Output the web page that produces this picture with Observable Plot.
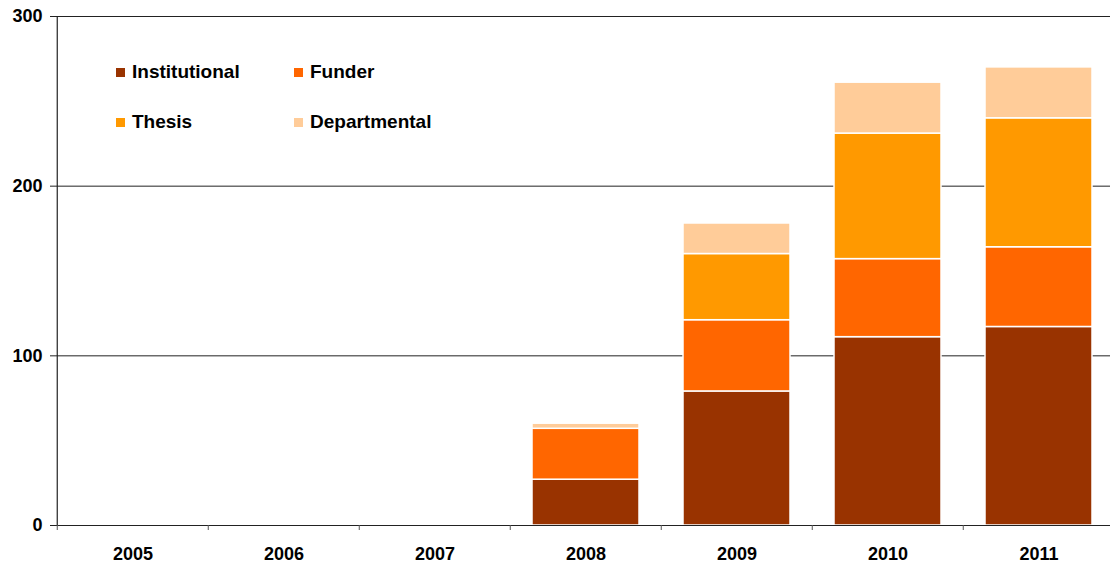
<!DOCTYPE html>
<html>
<head>
<meta charset="utf-8">
<script src="https://cdn.jsdelivr.net/npm/d3@7"></script>
<script src="https://cdn.jsdelivr.net/npm/@observablehq/plot@0.6"></script>
<style>
  body { margin: 0; background: #fff; font-family: "Liberation Sans", Arial, sans-serif; overflow: hidden; }
  #wrap { position: relative; width: 1110px; height: 566px; overflow: hidden; }
  #wrap svg { max-width: none !important; }
  .legend { position: absolute; left: 0; top: 0; font-weight: bold; font-size: 19px; color: #000; }
  .item { position: absolute; display: flex; align-items: center; white-space: nowrap; }
  .sw { width: 9px; height: 9px; margin-right: 7px; }
</style>
</head>
<body>
<div id="wrap"></div>
<script>
const years = ["2005", "2006", "2007", "2008", "2009", "2010", "2011"];
const categories = ["Institutional", "Funder", "Thesis", "Departmental"];
const institutional = [0, 0, 0, 27, 79, 111, 117];
const funder = [0, 0, 0, 30, 42, 46, 47];
const thesis = [0, 0, 0, 0, 39, 74, 76];
const departmental = [0, 0, 0, 3, 18, 30, 30];
const colors = ["#993300", "#FF6600", "#FF9900", "#FFCC99"];
const yTicks = [0, 100, 200, 300];

const seriesValues = [institutional, funder, thesis, departmental];
const data = [];
categories.forEach((c, i) => {
  years.forEach((y, j) => data.push({year: y, type: c, value: seriesValues[i][j]}));
});

const W = 1110, H = 566, mL = 55, mR = 0, mT = 16, mB = 41;
const xRange = [mL, 1115.5];
const step = (xRange[1] - xRange[0]) / years.length;
const font = "'Liberation Sans', Arial, sans-serif";

const chart = Plot.plot({
  width: W,
  height: H,
  marginLeft: mL,
  marginRight: mR,
  marginTop: mT,
  marginBottom: mB,
  style: {fontFamily: font, background: "#fff", color: "#000", overflow: "hidden"},
  x: {domain: years, padding: 0, range: xRange, label: null},
  y: {domain: [0, 300], label: null},
  color: {domain: categories, range: colors},
  marks: [
    Plot.gridY(yTicks.slice(1), {stroke: "#222", strokeOpacity: 1, strokeWidth: 1}),
    Plot.barY(data, {
      x: "year", y: "value", fill: "type", order: categories,
      stroke: "#fff", strokeWidth: 1.5, insetLeft: 22, insetRight: 22
    }),
    Plot.ruleY([0], {stroke: "#222", strokeWidth: 1.2}),
    Plot.ruleX([0], {x: () => years[0], dx: -step / 2, stroke: "#222", strokeWidth: 1.2}),
    Plot.axisY(yTicks, {
      tickSize: 5, tickPadding: 8, fontWeight: "bold", fontSize: 18,
      stroke: "#222", label: null, fill: "#000"
    }),
    Plot.axisX({
      tickSize: 0, tickPadding: 22, fontWeight: "bold", fontSize: 18,
      label: null, fill: "#000"
    }),
    Plot.axisX({
      tickSize: 5, tickFormat: () => "", dx: -step / 2, stroke: "#555", label: null
    })
  ]
});

const wrap = document.getElementById("wrap");
wrap.appendChild(chart);

const legend = document.createElement("div");
legend.className = "legend";
const pos = [[116, 72], [294, 72], [116, 122], [294, 122]];
categories.forEach((c, i) => {
  const it = document.createElement("div");
  it.className = "item";
  it.style.left = pos[i][0] + "px";
  it.style.top = (pos[i][1] - 11) + "px";
  it.style.height = "22px";
  const sw = document.createElement("span");
  sw.className = "sw";
  sw.style.background = colors[i];
  const t = document.createElement("span");
  t.textContent = c;
  it.appendChild(sw);
  it.appendChild(t);
  legend.appendChild(it);
});
wrap.appendChild(legend);
</script>
</body>
</html>
